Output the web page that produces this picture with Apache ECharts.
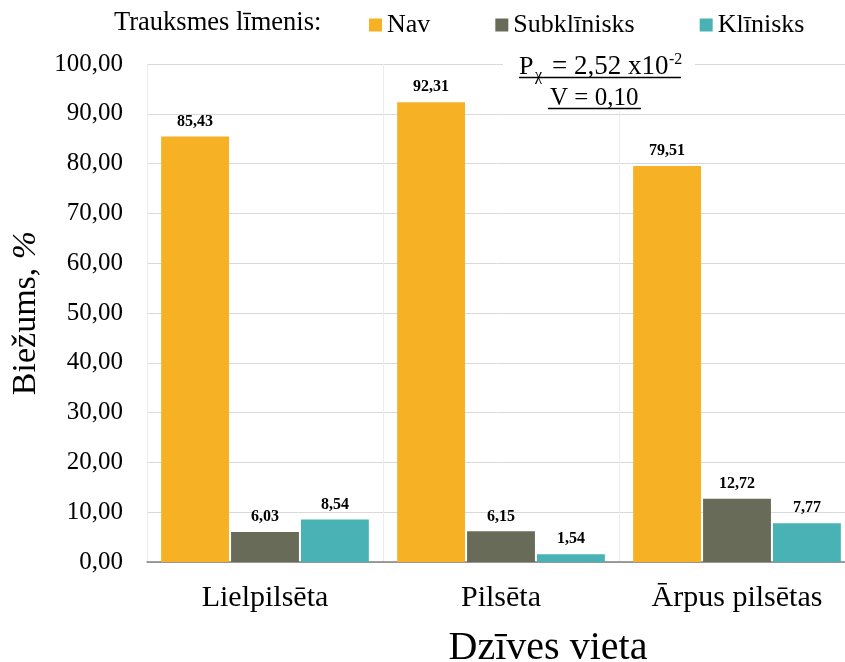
<!DOCTYPE html>
<html>
<head>
<meta charset="utf-8">
<script src="https://cdn.jsdelivr.net/npm/echarts@6/dist/echarts.min.js"></script>
<style>
  html, body { margin: 0; padding: 0; background: #fff; }
  #main { width: 845px; height: 662px; }
</style>
</head>
<body>
<div id="main"></div>
<script>
// dati
var categories = ['Lielpilsēta', 'Pilsēta', 'Ārpus pilsētas'];
var seriesNames = ['Nav', 'Subklīnisks', 'Klīnisks'];
var navData = [85.43, 92.31, 79.51];
var subData = [6.03, 6.15, 12.72];
var kliData = [8.54, 1.54, 7.77];
var yTicks = [0, 10, 20, 30, 40, 50, 60, 70, 80, 90, 100];

var colors = ['#F6B224', '#676B58', '#48B2B5'];
var serif = '"Liberation Serif", "Times New Roman", serif';

function fmt(v) {
  return v.toFixed(2).replace('.', ',');
}

var myChart = echarts.init(document.getElementById('main'));

function barSeries(name, data, color) {
  return {
    name: name,
    type: 'bar',
    data: data,
    barGap: '3%',
    barCategoryGap: '12%',
    itemStyle: { color: color },
    label: {
      show: true,
      position: 'top',
      distance: 7,
      fontFamily: serif,
      fontWeight: 'bold',
      fontSize: 16,
      color: '#000',
      formatter: function (p) { return fmt(p.value); }
    }
  };
}

var option = {
  backgroundColor: '#fff',
  animation: false,
  color: colors,
  grid: { left: 147, right: -10, top: 64, bottom: 100, outerBoundsMode: 'none', containLabel: false },
  legend: {
    data: seriesNames,
    left: 369,
    top: 12,
    icon: 'rect',
    itemWidth: 13,
    itemHeight: 13,
    itemGap: 65,
    padding: 0,
    textStyle: { fontFamily: serif, fontSize: 26, color: '#000' }
  },
  xAxis: {
    type: 'category',
    data: categories,
    axisTick: { show: false },
    axisLine: { lineStyle: { color: '#808080', width: 1.5 } },
    axisLabel: { fontFamily: serif, fontSize: 30, color: '#000', margin: 21 },
    splitLine: { show: true, lineStyle: { color: '#ececec', width: 1 } },
    name: 'Dzīves vieta',
    nameLocation: 'middle',
    nameGap: 66,
    nameTextStyle: { fontFamily: serif, fontSize: 40, color: '#000', padding: [0, 0, 0, 94] }
  },
  yAxis: {
    type: 'value',
    min: 0,
    max: 100,
    interval: 10,
    axisLabel: {
      fontFamily: serif, fontSize: 25, color: '#000', margin: 24,
      formatter: function (v) { return yTicks.indexOf(v) >= 0 ? fmt(v) : ''; }
    },
    splitLine: { lineStyle: { color: '#d9d9d9', width: 1 } },
    name: '{a|Biežums, }{b|%}',
    nameLocation: 'middle',
    nameRotate: 90,
    nameGap: 96,
    nameTextStyle: {
      rich: {
        a: { fontFamily: serif, fontSize: 34, color: '#000' },
        b: { fontFamily: serif, fontSize: 34, fontStyle: 'italic', color: '#000' }
      }
    }
  },
  graphic: [
    {
      type: 'text',
      left: 114,
      top: 10,
      style: { text: 'Trauksmes līmenis:', font: '26.5px ' + serif, fill: '#000' }
    },
    {
      type: 'group',
      z: 100,
      children: [
        { type: 'rect', z: 100, shape: { x: 503, y: 47, width: 192, height: 64 }, style: { fill: '#fff' } },
        { type: 'text', z: 101, x: 519, y: 54, style: { text: 'P', font: '26px ' + serif, fill: '#000', verticalAlign: 'top' } },
        { type: 'text', z: 101, x: 535, y: 68, style: { text: 'χ', font: '16px ' + serif, fill: '#000', verticalAlign: 'top' } },
        { type: 'text', z: 101, x: 552, y: 53, style: { text: '= 2,52 x10', font: '27px ' + serif, fill: '#000', verticalAlign: 'top' } },
        { type: 'text', z: 101, x: 669, y: 52, style: { text: '-2', font: '16px ' + serif, fill: '#000', verticalAlign: 'top' } },
        { type: 'line', z: 101, shape: { x1: 519, y1: 77.5, x2: 681, y2: 77.5 }, style: { stroke: '#000', lineWidth: 1.5 } },
        { type: 'text', z: 101, x: 550, y: 86, style: { text: 'V = 0,10', font: '25px ' + serif, fill: '#000', verticalAlign: 'top' } },
        { type: 'line', z: 101, shape: { x1: 548, y1: 108.5, x2: 641, y2: 108.5 }, style: { stroke: '#000', lineWidth: 1.5 } }
      ]
    }
  ],
  series: [
    barSeries(seriesNames[0], navData, colors[0]),
    barSeries(seriesNames[1], subData, colors[1]),
    barSeries(seriesNames[2], kliData, colors[2])
  ]
};

myChart.setOption(option);
</script>
</body>
</html>
